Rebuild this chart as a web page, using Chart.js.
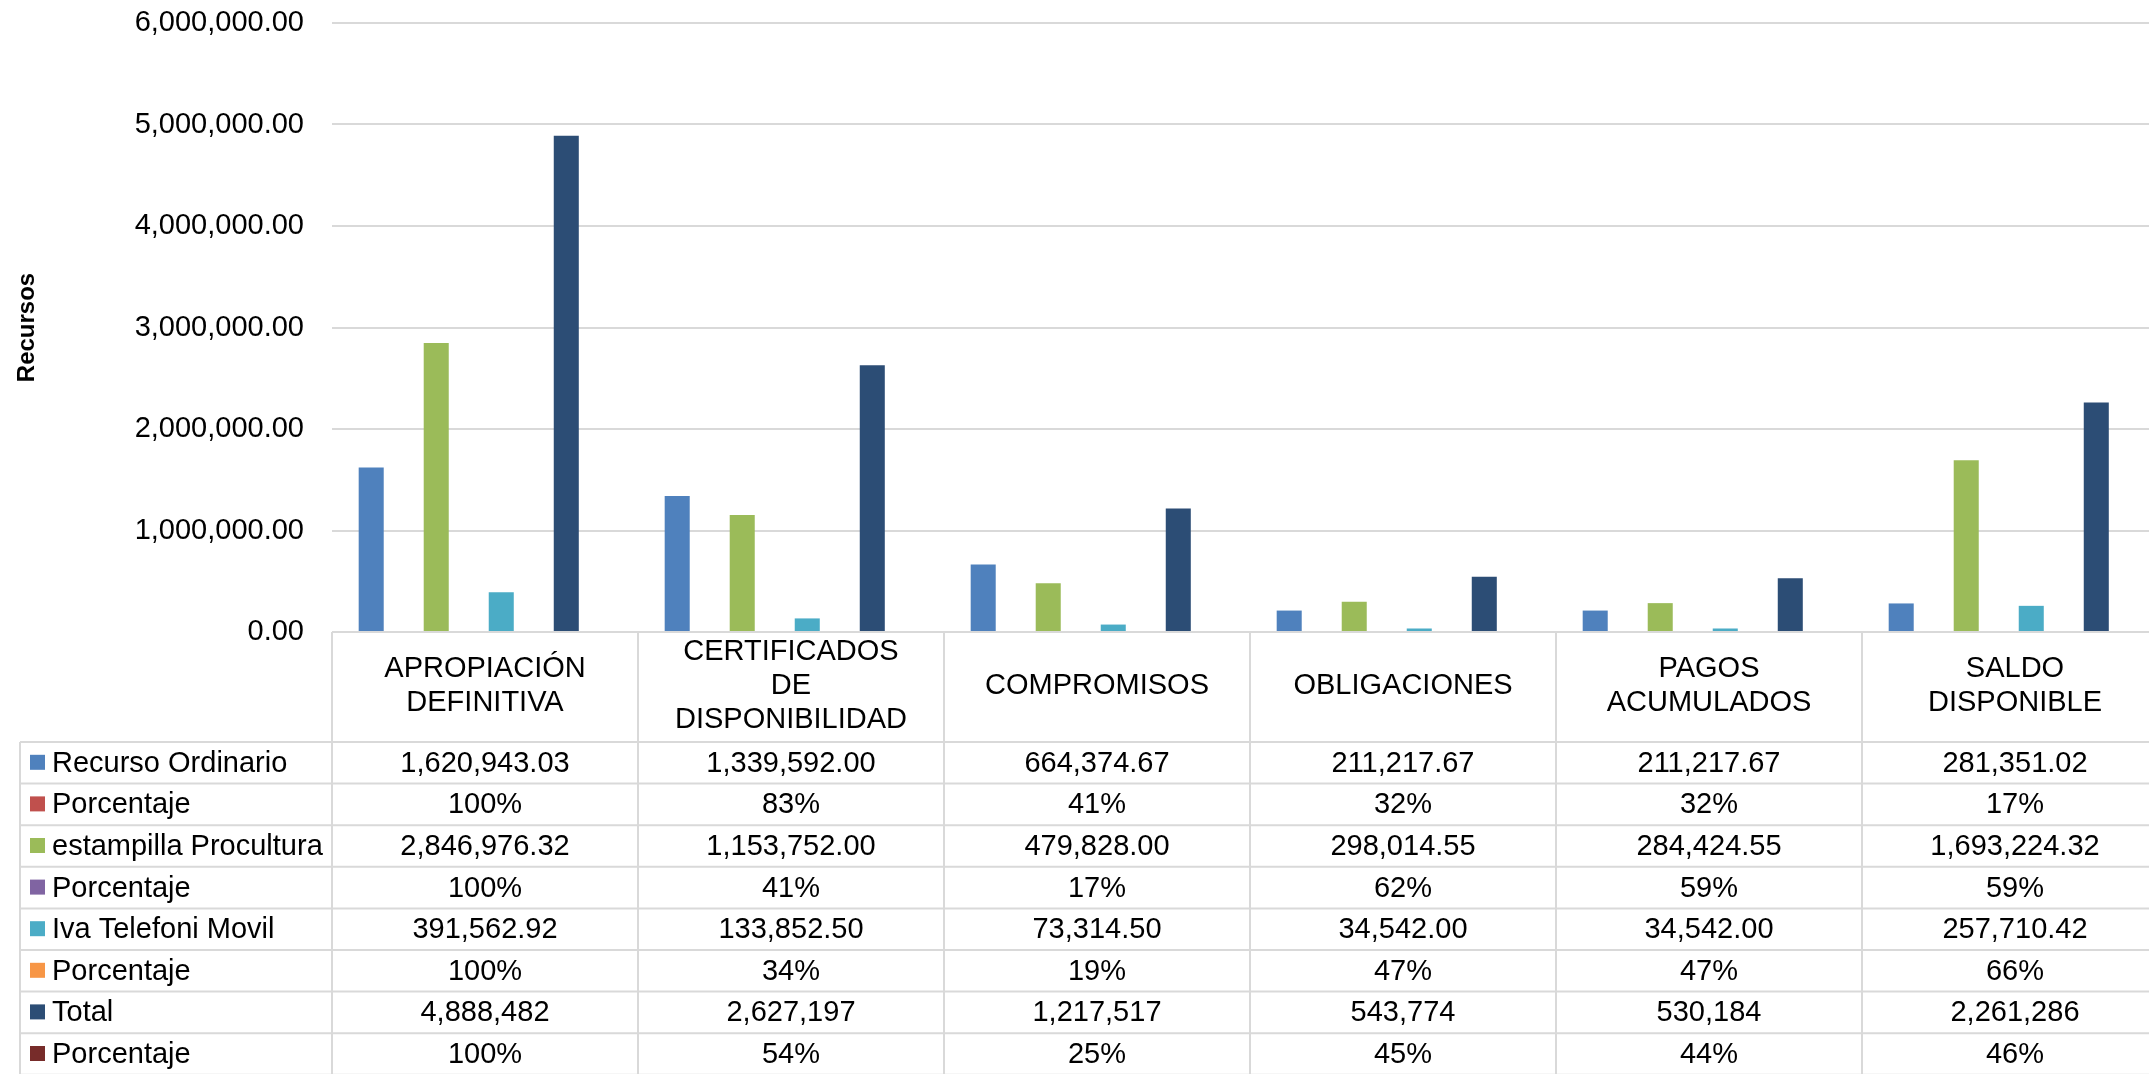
<!DOCTYPE html>
<html>
<head>
<meta charset="utf-8">
<script src="https://cdn.jsdelivr.net/npm/chart.js@4.4.1/dist/chart.umd.min.js"></script>
<style>
  html, body { margin: 0; padding: 0; overflow: hidden; background: #fff; }
  #wrap { width: 2170px; height: 1074px; position: relative; }
</style>
</head>
<body>
<div id="wrap"><canvas id="recursos-chart"></canvas></div>
<script>
const categorias = [
	['APROPIACIÓN', 'DEFINITIVA'],
	['CERTIFICADOS', 'DE', 'DISPONIBILIDAD'],
	'COMPROMISOS',
	'OBLIGACIONES',
	['PAGOS', 'ACUMULADOS'],
	['SALDO', 'DISPONIBLE']
];
const recursoOrdinario = [1620943.03, 1339592.00, 664374.67, 211217.67, 211217.67, 281351.02];
const pctOrdinario = [1.00, 0.83, 0.41, 0.32, 0.32, 0.17];
const estampilla = [2846976.32, 1153752.00, 479828.00, 298014.55, 284424.55, 1693224.32];
const pctEstampilla = [1.00, 0.41, 0.17, 0.62, 0.59, 0.59];
const ivaTelefonia = [391562.92, 133852.50, 73314.50, 34542.00, 34542.00, 257710.42];
const pctIva = [1.00, 0.34, 0.19, 0.47, 0.47, 0.66];
const total = [4888482, 2627197, 1217517, 543774, 530184, 2261286];
const pctTotal = [1.00, 0.54, 0.25, 0.45, 0.44, 0.46];
const yTicks = [0, 1000000, 2000000, 3000000, 4000000, 5000000, 6000000];

const FONT = "'Liberation Sans', Arial, sans-serif";
const LINE = '#d9d9d9';

const fmt2 = v => v.toLocaleString('en-US', {minimumFractionDigits: 2, maximumFractionDigits: 2});
const fmt0 = v => v.toLocaleString('en-US', {maximumFractionDigits: 0});
const fmtPct = v => Math.round(v * 100) + '%';

function serie(label, data, color, fmt) {
	return {label, data, backgroundColor: color, keyColor: color, borderWidth: 0, fmt};
}
// percentages share the axis with millions, so their bars stay flat (not visible)
function seriePct(label, data, color) {
	const s = serie(label, data, color, fmtPct);
	s.backgroundColor = 'rgba(0,0,0,0)';
	return s;
}

const data = {
	labels: categorias,
	datasets: [
		serie('Recurso Ordinario', recursoOrdinario, '#4F81BD', fmt2),
		seriePct('Porcentaje', pctOrdinario, '#C0504D'),
		serie('estampilla Procultura', estampilla, '#9BBB59', fmt2),
		seriePct('Porcentaje', pctEstampilla, '#8064A2'),
		serie('Iva Telefoni Movil', ivaTelefonia, '#4BACC6', fmt2),
		seriePct('Porcentaje', pctIva, '#F79646'),
		serie('Total', total, '#2C4D75', fmt0),
		seriePct('Porcentaje', pctTotal, '#772C2A')
	]
};

// draws the data table under the plot, columns follow the x scale
const dataTable = {
	id: 'dataTable',
	afterDraw(chart) {
		const ctx = chart.ctx;
		const xs = chart.scales.x;
		const area = chart.chartArea;
		const half = (xs.getPixelForValue(1) - xs.getPixelForValue(0)) / 2;
		const top = area.bottom;
		const headBottom = top + 110;
		const rowH = 41.6;
		const tableLeft = 20;
		const right = xs.getPixelForValue(categorias.length - 1) + half;
		const bottom = headBottom + rowH * chart.data.datasets.length;

		ctx.save();
		ctx.strokeStyle = LINE;
		ctx.lineWidth = 2;
		ctx.beginPath();
		// column borders
		for (let i = 0; i <= categorias.length; i++) {
			const x = xs.getPixelForValue(i) - half;
			ctx.moveTo(x, top);
			ctx.lineTo(x, bottom + 5);
		}
		ctx.moveTo(tableLeft, headBottom);
		ctx.lineTo(tableLeft, bottom + 5);
		// row borders
		for (let r = 0; r <= chart.data.datasets.length; r++) {
			const y = headBottom + r * rowH;
			ctx.moveTo(tableLeft, y);
			ctx.lineTo(right, y);
		}
		ctx.stroke();

		ctx.font = '29px ' + FONT;
		ctx.textBaseline = 'middle';
		chart.data.datasets.forEach((ds, r) => {
			const mid = headBottom + r * rowH + rowH / 2;
			ctx.fillStyle = ds.keyColor;
			ctx.fillRect(30, mid - 8, 15, 15);
			ctx.fillStyle = '#000';
			ctx.textAlign = 'left';
			ctx.fillText(ds.label, 52, mid + 1);
			ctx.textAlign = 'center';
			ds.data.forEach((v, i) => {
				ctx.fillText(ds.fmt(v), xs.getPixelForValue(i), mid + 1);
			});
		});
		ctx.restore();
	}
};

const config = {
	type: 'bar',
	data,
	options: {
		responsive: true,
		maintainAspectRatio: false,
		animation: false,
		devicePixelRatio: 1,
		categoryPercentage: 0.85,
		barPercentage: 0.77,
		layout: {
			padding: {top: 23, right: 2, left: 0, bottom: 0}
		},
		plugins: {
			legend: {display: false},
			tooltip: {enabled: false}
		},
		scales: {
			x: {
				grid: {display: false, drawTicks: false},
				border: {display: false},
				ticks: {
					color: '#000',
					font: {family: FONT, size: 29, lineHeight: 1.17},
					padding: 20,
					autoSkip: false,
					maxRotation: 0,
					minRotation: 0,
					crossAlign: 'center'
				},
				afterFit(scale) { scale.height = 442; }
			},
			y: {
				min: 0,
				max: 6000000,
				afterBuildTicks(scale) { scale.ticks = yTicks.map(v => ({value: v})); },
				grid: {color: LINE, lineWidth: 2, drawTicks: false},
				border: {display: false},
				ticks: {
					color: '#000',
					font: {family: FONT, size: 29},
					padding: 28,
					callback: v => fmt2(v)
				},
				title: {
					display: true,
					text: 'Recursos',
					color: '#000',
					font: {family: FONT, size: 24, weight: 'bold'},
					padding: {top: 13, bottom: 0}
				},
				afterFit(scale) {
					scale.width = 332;
					scale.paddingTop = 0;
					scale.paddingBottom = 0;
				}
			}
		}
	},
	plugins: [dataTable]
};

new Chart(document.getElementById('recursos-chart'), config);
</script>
</body>
</html>
